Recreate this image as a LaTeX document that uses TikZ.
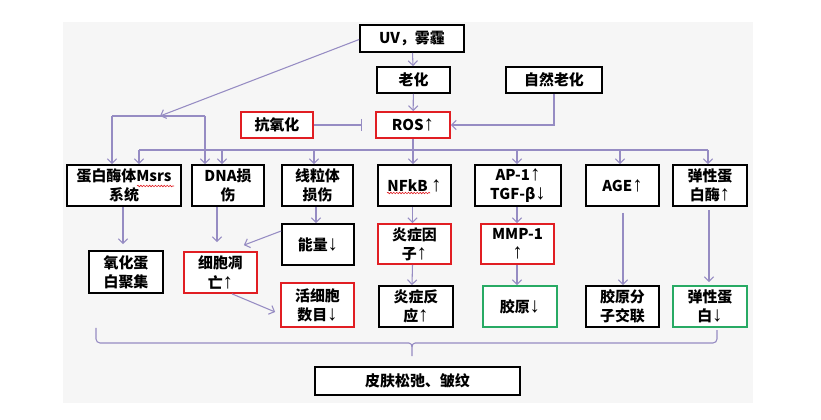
\documentclass[tikz,border=0pt]{standalone}
\usepackage{fontspec}
\setmainfont{Noto Sans CJK SC}
\newfontfamily\arwfont[Scale=1.4]{Liberation Sans}
\newcommand\uarr{{\arwfont ↑}}
\newcommand\darr{{\arwfont ↓}}
\usetikzlibrary{arrows.meta,calc,decorations.pathmorphing}
\definecolor{lnc}{RGB}{150,140,195}
\definecolor{rd}{RGB}{225,30,35}
\definecolor{gn}{RGB}{40,170,100}
\definecolor{bgc}{RGB}{246,246,246}
\tikzset{
  box/.style args={#1/#2}{draw=black, line width=1.3pt, fill=white,
    minimum width=#1*0.75pt, minimum height=#2*0.75pt, inner sep=1pt, align=center},
  conn/.style={draw=lnc, line width=0.8pt},
  arr/.style={conn, -{Straight Barb[length=3.5pt,width=7pt]}},
  squig/.style={draw=rd, line width=0.45pt, decorate, decoration={snake, amplitude=0.55pt, segment length=2.2pt}}
}
\begin{document}
\begin{tikzpicture}[x=0.75pt, y=-0.75pt, font=\bfseries\fontsize{11.2}{14.3}\selectfont]
\useasboundingbox (0,0) rectangle (821,420);
\fill[bgc] (63,22) rectangle (753,403);

% top
\node[box=104/27] (uv) at (412,38.5) {UV，雾霾};
\node[box=73/26] (lh) at (413.5,80) {老化};
\node[box=96/26] (zr) at (554,80) {自然老化};
\node[box=74/26, draw=rd] (ros) at (413,125) {ROS\uarr};
\node[box=72/26, draw=rd] (kang) at (277,125) {抗氧化};

% row 2
\node[box=114/41] (prot) at (124,185.5) {蛋白酶体Msrs\\系统};
\node[box=72/41] (dna) at (228,185.5) {DNA损\\伤};
\node[box=71/41] (xl) at (317.5,185.5) {线粒体\\损伤};
\node[box=73/41] (nf) at (414.5,185.5) {NFkB \uarr};
\node[box=86/41] (ap) at (518,185.5) {AP-1\uarr\\TGF-β\darr};
\node[box=73/41] (age) at (622.5,185.5) {AGE\uarr};
\node[box=74/41] (tm) at (710,185.5) {弹性蛋\\白酶\uarr};

% row 3
\node[box=72/41] (nl) at (318,244.5) {能量\darr};
\node[box=73/40, draw=rd] (yz) at (414.5,244) {炎症因\\子\uarr};
\node[box=73/40, draw=rd] (mmp) at (517.5,244) {MMP-1\\\uarr};
\node[box=74/42] (yh) at (126,272) {氧化蛋\\白聚集};
\node[box=73/41, draw=rd] (dw) at (220.5,272.5) {细胞凋\\亡\uarr};
\node[box=73/44, draw=rd] (hx) at (317.5,305) {活细胞\\数目\darr};
\node[box=74/41] (yf) at (416,306.5) {炎症反\\应\uarr};
\node[box=74/41, draw=gn] (jy) at (520,306.5) {胶原\darr};
\node[box=73/41] (jf) at (622.5,306.5) {胶原分\\子交联};
\node[box=74/41, draw=gn] (tb) at (710,306.5) {弹性蛋\\白\darr};
\node[box=205/28] (pf) at (417.5,381) {皮肤松弛、皱纹};

% top connectors
\draw[arr] (uv) -- (lh);
\draw[arr] (lh) -- (ros);
\draw[arr] (zr.south) |- (ros.east);
\draw[conn, -{Bar[width=9pt]}, shorten >=9.75pt] (kang.east) -- (ros.west);

% UV branch
\coordinate (uvj) at (160,116);
\coordinate (j1) at (112,116);
\coordinate (j2) at (205,116);
\draw[arr] ($(uv.west)+(0,1)$) -- (uvj);
\draw[conn] (j1) -- (j2);
\draw[arr] (j1) -- (j1 |- prot.north);
\draw[arr] (j2) -- (j2 |- dna.north);

% ROS bus
\coordinate (b1) at (139,150);
\coordinate (b2) at (222,150);
\coordinate (b3) at (314,150);
\coordinate (b5) at (517,150);
\coordinate (b6) at (620,150);
\coordinate (b7) at (708,150);
\draw[conn] (b1) -- (b7);
\draw[arr] (ros.south) -- (ros.south |- nf.north);
\draw[arr] (b1) -- (b1 |- prot.north);
\draw[arr] (b2) -- (b2 |- dna.north);
\draw[arr] (b3) -- (b3 |- xl.north);
\draw[arr] (b5) -- (b5 |- ap.north);
\draw[arr] (b6) -- (b6 |- age.north);
\draw[arr] (b7) -- (b7 |- tm.north);

% row 2 -> row 3
\draw[arr] ($(prot.south)+(-1,0)$) -- ($(yh.north)+(-3,-6)$);
\draw[arr] ($(dna.south)+(-11,0)$) -- ($(dw.north)+(-3.5,-9)$);
\draw[arr] ($(xl.south)+(-1.5,0)$) -- ($(nl.north)+(-2,0)$);
\draw[arr] ($(nl.west)+(0,-13.5)$) -- ($(dw.north east)+(-14,-6)$);
\draw[arr] ($(dw.south)+(11.5,0)$) -- ($(hx.west)+(-5,7)$);
\draw[arr] ($(nf.south)+(-2,0)$) -- ($(yz.north)+(-2,0)$);
\draw[arr] ($(yz.south)+(-2,0)$) -- ($(yf.north)+(-4,0)$);
\draw[arr] ($(ap.south)+(-1,0)$) -- ($(mmp.north)+(-0.5,0)$);
\draw[arr] ($(mmp.south)+(-0.5,0)$) -- ($(jy.north)+(-3,0)$);
\draw[arr] ($(age.south)+(0.5,6)$) -- ($(jf.north)+(0.5,0)$);
\draw[arr] ($(tm.south)+(-1,3)$) -- ($(tb.north)+(-1,-3)$);

% brace
\draw[conn, rounded corners=3pt] (96,328) -- (96,343) -- (409,343);
\draw[conn, rounded corners=3pt] (415,343) -- (717,343) -- (717,330);
\draw[conn] (409,343) to[out=0,in=90] (412,347) -- ($(pf.north)+(-5.5,-10)$);
\draw[conn] (415,343) to[out=180,in=90] (412,347);

% spell-check squiggles
\draw[squig] (137,186) -- (174,186);
\draw[squig] (387,193) -- (430,193);
\end{tikzpicture}
\end{document}
